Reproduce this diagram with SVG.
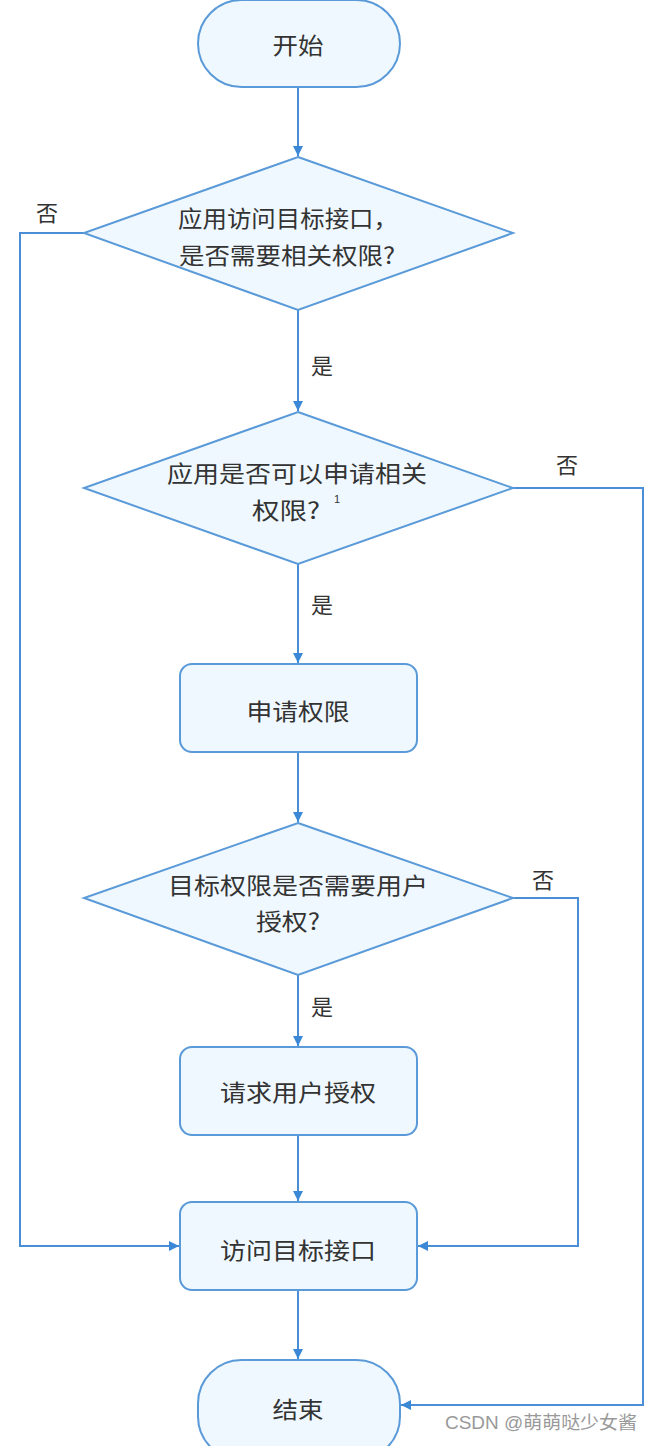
<svg xmlns="http://www.w3.org/2000/svg" width="652" height="1446" viewBox="0 0 652 1446">
<defs>
<marker id="ah" viewBox="0 0 10 10" refX="10" refY="5" markerWidth="10" markerHeight="10" markerUnits="userSpaceOnUse" orient="auto">
<path d="M0,0 L10,5 L0,10 z" fill="#3a88d6"/>
</marker>
<style>
.shape{fill:#eff8fe;stroke:#5a9ad8;stroke-width:2}
.t{font-family:"Noto Sans CJK SC","Microsoft YaHei",sans-serif;font-size:23px;fill:#333;text-anchor:middle;dominant-baseline:central}
.lbl{font-family:"Noto Sans CJK SC",sans-serif;font-size:22px;fill:#333;text-anchor:middle;dominant-baseline:central}
.c{fill:none;stroke:#4a8fd6;stroke-width:2;marker-end:url(#ah)}
</style>
</defs>
<rect width="652" height="1446" fill="#ffffff"/>
<g id="connectors">
<path class="c" d="M298,87 V156"/>
<path class="c" d="M298,310 V411"/>
<path class="c" d="M298,564 V663"/>
<path class="c" d="M298,752 V822"/>
<path class="c" d="M298,975 V1046"/>
<path class="c" d="M298,1135 V1201"/>
<path class="c" d="M298,1290 V1359"/>
<path class="c" d="M84,233 H20 V1246 H179"/>
<path class="c" d="M513,488 H643 V1405 H401"/>
<path class="c" d="M513,898 H578 V1246 H418"/>
<text class="lbl" x="47" y="211">否</text>
<text class="lbl" x="322" y="364">是</text>
<text class="lbl" x="567" y="463">否</text>
<text class="lbl" x="322" y="603">是</text>
<text class="lbl" x="543" y="878">否</text>
<text class="lbl" x="322" y="1005">是</text>
</g>
<g id="start">
<rect class="shape" x="198" y="0" width="202" height="87" rx="43.5"/>
<text class="t" x="298" y="44" textLength="51" lengthAdjust="spacingAndGlyphs">开始</text>
</g>
<g id="d1">
<polygon class="shape" points="298,157 513,233 298,310 84,233"/>
<text class="t" x="288" y="217" textLength="220" lengthAdjust="spacingAndGlyphs">应用访问目标接口，</text>
<text class="t" x="287" y="254" textLength="216" lengthAdjust="spacingAndGlyphs">是否需要相关权限?</text>
</g>
<g id="d2">
<polygon class="shape" points="298,412 513,488 298,564 84,488"/>
<text class="t" x="297" y="472" textLength="260" lengthAdjust="spacingAndGlyphs">应用是否可以申请相关</text>
<text class="t" x="286" y="509" textLength="68" lengthAdjust="spacingAndGlyphs">权限?</text>
<text x="337" y="503" font-family="Liberation Sans,sans-serif" font-size="11" fill="#333" text-anchor="middle">1</text>
</g>
<g id="apply">
<rect class="shape" x="180" y="664" width="237" height="88" rx="12"/>
<text class="t" x="298" y="710" textLength="103" lengthAdjust="spacingAndGlyphs">申请权限</text>
</g>
<g id="d3">
<polygon class="shape" points="298,823 513,898 298,975 84,898"/>
<text class="t" x="298" y="884" textLength="260" lengthAdjust="spacingAndGlyphs">目标权限是否需要用户</text>
<text class="t" x="288" y="920" textLength="64" lengthAdjust="spacingAndGlyphs">授权?</text>
</g>
<g id="request">
<rect class="shape" x="180" y="1047" width="237" height="88" rx="12"/>
<text class="t" x="298" y="1091" textLength="156" lengthAdjust="spacingAndGlyphs">请求用户授权</text>
</g>
<g id="access">
<rect class="shape" x="180" y="1202" width="237" height="88" rx="12"/>
<text class="t" x="298" y="1249" textLength="156" lengthAdjust="spacingAndGlyphs">访问目标接口</text>
</g>
<g id="end">
<rect class="shape" x="198" y="1360" width="202" height="100" rx="43.5"/>
<text class="t" x="298" y="1408" textLength="51" lengthAdjust="spacingAndGlyphs">结束</text>
</g>
<text x="541" y="1423" font-family="Liberation Sans,'Noto Sans CJK SC',sans-serif" font-size="18" fill="#999" text-anchor="middle" dominant-baseline="central" textLength="192" lengthAdjust="spacingAndGlyphs">CSDN @萌萌哒少女酱</text>
</svg>
